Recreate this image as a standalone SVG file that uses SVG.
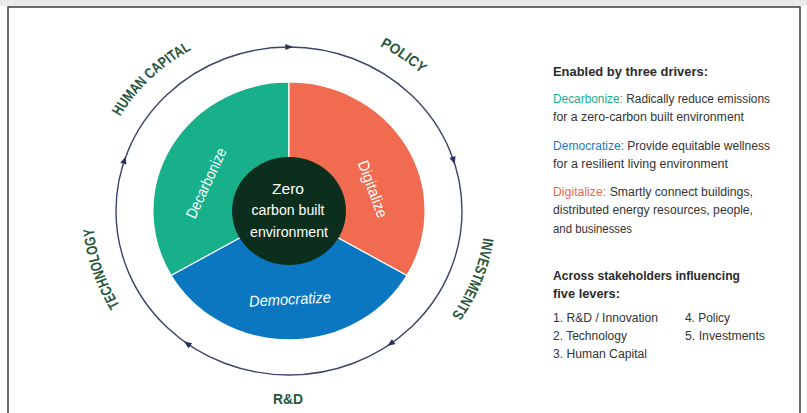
<svg xmlns="http://www.w3.org/2000/svg" xmlns:xlink="http://www.w3.org/1999/xlink" width="807" height="413" viewBox="0 0 807 413">
<style>
  .lever{font-family:"Liberation Sans",Arial,sans-serif;font-weight:bold;font-size:14.5px;fill:#27573a}
  .slice{stroke:#ffffff;stroke-width:1.2;vector-effect:non-scaling-stroke}
  .wl{font-family:"Liberation Sans",Arial,sans-serif;fill:#ffffff;font-size:15.5px}
  .hd{font-family:"Liberation Sans",Arial,sans-serif;font-weight:bold;font-size:13.5px;fill:#2b2b2b}
  .bd{font-family:"Liberation Sans",Arial,sans-serif;font-size:12px;fill:#333333}
  .teal{fill:#18ad8a}
  .blu{fill:#1a7cc4}
  .org{fill:#ee6a50}
  .ring{fill:none;stroke:#3a4468;stroke-width:1.4;vector-effect:non-scaling-stroke}
</style>
<defs>
  <path id="ah" d="M4,0 L-3.5,-3 L-3.5,3 Z" fill="#2a3360"/>
  <path id="lblpath" d="M0,186 A186,186 0 1 1 0,-186 A186,186 0 1 1 0,186"/>
</defs>
<rect x="0" y="0" width="807" height="6" fill="#e9e9e9"/>
<path d="M8,413 V7 H800 V413" fill="none" stroke="#3a3a3a" stroke-width="1.5"/>

<g transform="translate(289,211) scale(1.055,1)">
  <g id="decarbonize">
    <path class="slice" d="M0,0 L0,-129 A129,129 0 0 0 -111.7,64.5 Z" fill="#17b08b"/>
  </g>
  <g id="digitalize">
    <path class="slice" d="M0,0 L0,-129 A129,129 0 0 1 111.7,64.5 Z" fill="#f06b4f"/>
  </g>
  <g id="democratize">
    <path class="slice" d="M0,0 L111.7,64.5 A129,129 0 0 1 -111.7,64.5 Z" fill="#0b77c1"/>
  </g>
  <g id="center">
    <circle cx="0" cy="0" r="54" fill="#0c2e1d"/>
  </g>
  <g id="connectors">
    <circle class="ring" cx="0" cy="0" r="164"/>
    <use xlink:href="#ah" transform="rotate(-90) translate(164,0) rotate(90)"/>
    <use xlink:href="#ah" transform="rotate(-18) translate(164,0) rotate(90)"/>
    <use xlink:href="#ah" transform="rotate(54) translate(164,0) rotate(90)"/>
    <use xlink:href="#ah" transform="rotate(126) translate(164,0) rotate(90)"/>
    <use xlink:href="#ah" transform="rotate(198) translate(164,0) rotate(90)"/>
  </g>
  <g id="lever-technology">
    <text class="lever"><textPath xlink:href="#lblpath" startOffset="20%" text-anchor="middle" textLength="82" lengthAdjust="spacingAndGlyphs">TECHNOLOGY</textPath></text>
  </g>
  <g id="lever-human-capital">
    <text class="lever"><textPath xlink:href="#lblpath" startOffset="37.6%" text-anchor="middle" textLength="96" lengthAdjust="spacingAndGlyphs">HUMAN CAPITAL</textPath></text>
  </g>
  <g id="lever-policy">
    <text class="lever"><textPath xlink:href="#lblpath" startOffset="59.7%" text-anchor="middle" textLength="48" lengthAdjust="spacingAndGlyphs">POLICY</textPath></text>
  </g>
  <g id="lever-investments">
    <text class="lever"><textPath xlink:href="#lblpath" startOffset="80.9%" text-anchor="middle" textLength="84" lengthAdjust="spacingAndGlyphs">INVESTMENTS</textPath></text>
  </g>
</g>
<g id="lever-rd">
  <text class="lever" x="288" y="404" text-anchor="middle" font-size="16" textLength="30" lengthAdjust="spacingAndGlyphs">R&amp;D</text>
</g>

<g id="slice-labels">
  <text class="wl" transform="translate(206,183) rotate(-65)" text-anchor="middle" dy="5.5" font-size="16" textLength="76" lengthAdjust="spacingAndGlyphs">Decarbonize</text>
  <text class="wl" transform="translate(373,189) rotate(70)" text-anchor="middle" dy="5.5" font-size="16" textLength="60" lengthAdjust="spacingAndGlyphs">Digitalize</text>
  <text class="wl" transform="translate(290,299) rotate(-3)" text-anchor="middle" dy="5.5" font-size="16" font-style="italic" textLength="82" lengthAdjust="spacingAndGlyphs">Democratize</text>
  <text class="wl" x="288" y="194" text-anchor="middle" textLength="32" lengthAdjust="spacingAndGlyphs">Zero</text>
  <text class="wl" x="288" y="215" text-anchor="middle" textLength="73" lengthAdjust="spacingAndGlyphs">carbon built</text>
  <text class="wl" x="289" y="237" text-anchor="middle" textLength="78" lengthAdjust="spacingAndGlyphs">environment</text>
</g>

<g id="legend">
  <text class="hd" x="553" y="76" textLength="155" lengthAdjust="spacingAndGlyphs">Enabled by three drivers:</text>
  <text class="bd" x="553" y="103" textLength="217" lengthAdjust="spacingAndGlyphs"><tspan class="teal">Decarbonize:</tspan> Radically reduce emissions</text>
  <text class="bd" x="553" y="121" textLength="191" lengthAdjust="spacingAndGlyphs">for a zero-carbon built environment</text>
  <text class="bd" x="553" y="150" textLength="217" lengthAdjust="spacingAndGlyphs"><tspan class="blu">Democratize:</tspan> Provide equitable wellness</text>
  <text class="bd" x="553" y="168" textLength="175" lengthAdjust="spacingAndGlyphs">for a resilient living environment</text>
  <text class="bd" x="553" y="196" textLength="200" lengthAdjust="spacingAndGlyphs"><tspan class="org">Digitalize:</tspan> Smartly connect buildings,</text>
  <text class="bd" x="553" y="214" textLength="200" lengthAdjust="spacingAndGlyphs">distributed energy resources, people,</text>
  <text class="bd" x="553" y="233" textLength="79" lengthAdjust="spacingAndGlyphs">and businesses</text>
  <text class="hd" x="553" y="280" textLength="187" lengthAdjust="spacingAndGlyphs">Across stakeholders influencing</text>
  <text class="hd" x="553" y="298" textLength="67" lengthAdjust="spacingAndGlyphs">five levers:</text>
  <text class="bd" x="553" y="322" textLength="105" lengthAdjust="spacingAndGlyphs">1. R&amp;D / Innovation</text>
  <text class="bd" x="685" y="322" textLength="45" lengthAdjust="spacingAndGlyphs">4. Policy</text>
  <text class="bd" x="553" y="340" textLength="74" lengthAdjust="spacingAndGlyphs">2. Technology</text>
  <text class="bd" x="685" y="340" textLength="80" lengthAdjust="spacingAndGlyphs">5. Investments</text>
  <text class="bd" x="553" y="358" textLength="94" lengthAdjust="spacingAndGlyphs">3. Human Capital</text>
</g>
</svg>
